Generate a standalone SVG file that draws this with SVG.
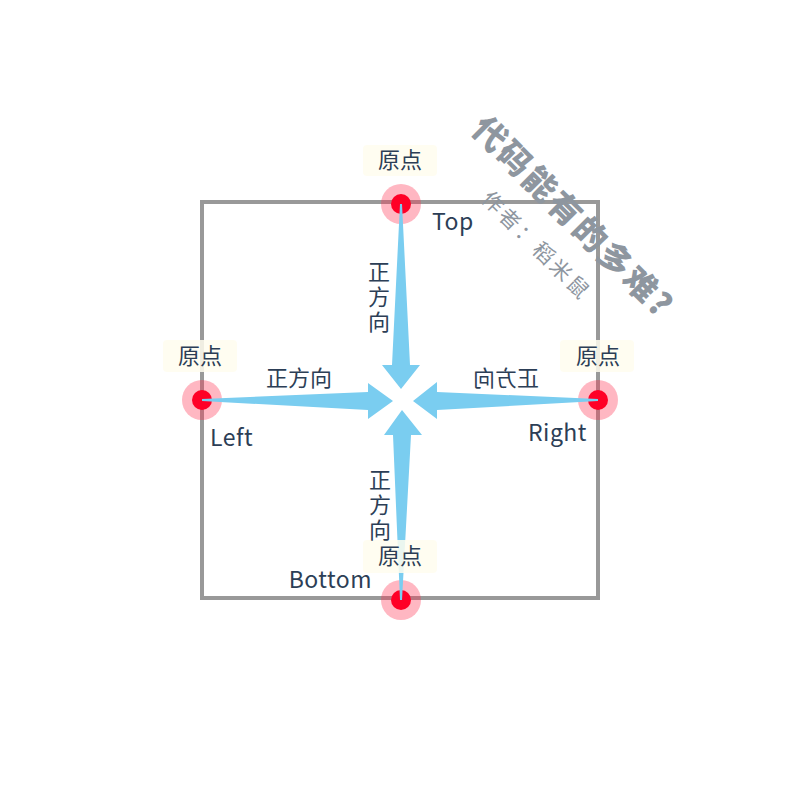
<svg xmlns="http://www.w3.org/2000/svg" width="800" height="800" viewBox="0 0 800 800">
<style>
.lbl{font-family:"Noto Sans CJK SC","Noto Sans",sans-serif;font-size:22px;fill:#2c3e56}
.lat{font-size:23px;letter-spacing:0.5px}
.vert{writing-mode:vertical-rl;letter-spacing:3px}
.box{fill:#fffdee;fill-opacity:0.85}
.halo{fill:#ff3050;opacity:0.35}
.dot{fill:#ff0026}
.arr{fill:#7acdf0}
.wm{font-family:"Noto Sans CJK SC",sans-serif;fill:#8e969f}
</style>
<rect x="202" y="202" width="396" height="396" fill="none" stroke="#999" stroke-width="4"/>
<g id="watermark">
<text class="wm" font-size="33" font-weight="900" letter-spacing="2.5" text-anchor="middle" transform="translate(573,217) rotate(45)" dy="12">代码能有的多难?</text>
<text class="wm" font-size="21" letter-spacing="3" text-anchor="middle" transform="translate(536,246) rotate(45)" dy="7">作者：稻米鼠</text>
</g>
<g id="top-point">
<circle class="halo" cx="401" cy="204" r="20"/>
<circle class="dot" cx="401" cy="204" r="10"/>
</g>
<g id="left-point">
<circle class="halo" cx="202" cy="400" r="20"/>
<circle class="dot" cx="202" cy="400" r="10"/>
</g>
<g id="right-point">
<circle class="halo" cx="598" cy="400" r="20"/>
<circle class="dot" cx="598" cy="400" r="10"/>
</g>
<g id="bottom-point">
<circle class="halo" cx="401" cy="600" r="20"/>
<circle class="dot" cx="401" cy="600" r="10"/>
</g>
<g id="connectors">
<polygon class="arr" points="400,204 402,204 410,365 420,365 401,389 382,365 392,365"/>
<polygon class="arr" points="202,399 202,401 368,410 368,419 393,401 368,383 368,392"/>
<polygon class="arr" points="598,399 598,401 437,410 437,419 413,401 437,382 437,392"/>
<polygon class="arr" points="400,600 402,600 411,435 422,435 402,410 384,435 393,435"/>
</g>
<g id="top">
<rect class="box" x="363" y="145" width="74" height="31" rx="4"/>
<text class="lbl" x="400" y="168" text-anchor="middle">原点</text>
<text class="lbl lat" x="432" y="230">Top</text>
<text class="lbl vert" x="379" y="261">正方向</text>
</g>
<g id="left">
<rect class="box" x="163" y="340" width="74" height="32" rx="4"/>
<text class="lbl" x="200" y="364" text-anchor="middle">原点</text>
<text class="lbl lat" x="210" y="446">Left</text>
<text class="lbl" x="299" y="386" text-anchor="middle">正方向</text>
</g>
<g id="right">
<rect class="box" x="560" y="340" width="74" height="32" rx="4"/>
<text class="lbl" x="598" y="364" text-anchor="middle">原点</text>
<text class="lbl lat" x="587" y="441" text-anchor="end">Right</text>
<text class="lbl" text-anchor="middle" transform="translate(506,386) scale(-1,1)">正方向</text>
</g>
<g id="bottom">
<rect class="box" x="363" y="540" width="74" height="33" rx="4"/>
<text class="lbl" x="400" y="564" text-anchor="middle">原点</text>
<text class="lbl lat" x="372" y="588" text-anchor="end">Bottom</text>
<text class="lbl vert" x="380" y="469">正方向</text>
</g>
</svg>
